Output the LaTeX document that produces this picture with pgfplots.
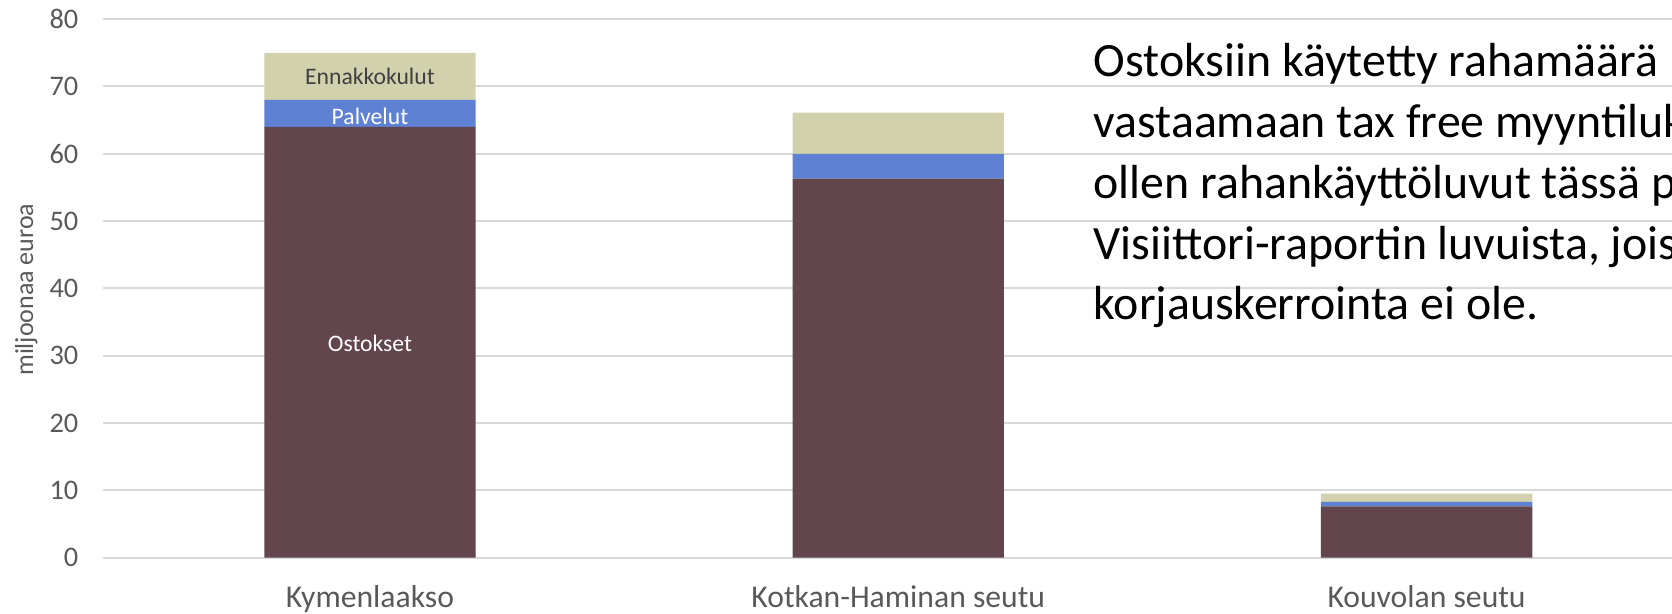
\documentclass[border=0pt]{standalone}
\usepackage{pgfplots}
\pgfplotsset{compat=1.18}
\usepackage{fontspec}
\setmainfont{Carlito}
\definecolor{ostokset}{RGB}{98,69,77}
\definecolor{palvelut}{RGB}{94,129,212}
\definecolor{ennakko}{RGB}{209,209,173}
\definecolor{gridgray}{RGB}{217,217,217}
\definecolor{txtgray}{RGB}{89,89,89}
\begin{document}
\begin{tikzpicture}
\path[use as bounding box] (-31.0pt,-16.9pt) rectangle (470.6pt,167.3pt);
\clip (-31.0pt,-16.9pt) rectangle (470.6pt,167.3pt);
\begin{axis}[
  at={(0,0)}, anchor=south west,
  scale only axis, width=470.6pt, height=161.55pt,
  ybar stacked, bar width=0.4,
  xmin=-0.5047, xmax=2.4645, ymin=0, ymax=80,
  ytick distance=10,
  xtick={0,1,2},
  xticklabels={Kymenlaakso,Kotkan-Haminan seutu,Kouvolan seutu},
  axis line style={draw=none},
  major tick length=0pt,
  ymajorgrids, grid style={gridgray, line width=0.6pt},
  /pgf/number format/assume math mode=true,
  yticklabel style={font=\fontsize{8.5}{10}\selectfont, text=txtgray, xshift=-4pt},
  xticklabel style={font=\fontsize{9.5}{11}\selectfont, text=txtgray, anchor=base, yshift=-15pt},
  clip=false,
]
  \addplot[fill=ostokset, draw=none] coordinates {(0,64.0) (1,56.3) (2,7.6)};
  \addplot[fill=palvelut, draw=none] coordinates {(0,4.0) (1,3.7) (2,0.7)};
  \addplot[fill=ennakko, draw=none] coordinates {(0,7.0) (1,6.1) (2,1.2)};
  \coordinate (lo) at (axis cs:0,31.9);
  \coordinate (lp) at (axis cs:0,65.6);
  \coordinate (le) at (axis cs:0,71.5);
\end{axis}
\node[font=\fontsize{7.1}{8}\selectfont, text=white] at (lo) {Ostokset};
\node[font=\fontsize{7.1}{8}\selectfont, text=white] at (lp) {Palvelut};
\node[font=\fontsize{7.1}{8}\selectfont, text={black!75}] at (le) {Ennakkokulut};
\node[rotate=90, font=\fontsize{7.8}{9}\selectfont, text=txtgray] at (-23.1pt,80.4pt) {miljoonaa euroa};
\begin{scope}[every node/.style={anchor=base west, inner sep=0pt, font=\fontsize{14.35}{17}\selectfont}]
  \node at (296.9pt,144.2pt) {Ostoksiin käytetty rahamäärä};
  \node at (296.9pt,126.0pt) {vastaamaan tax free myyntilukuja. Näin};
  \node at (296.9pt,107.8pt) {ollen rahankäyttöluvut tässä poikkeavat};
  \node at (296.9pt,89.5pt) {Visiittori-raportin luvuista, joissa};
  \node at (296.9pt,71.3pt) {korjauskerrointa ei ole.};
\end{scope}
\end{tikzpicture}
\end{document}
